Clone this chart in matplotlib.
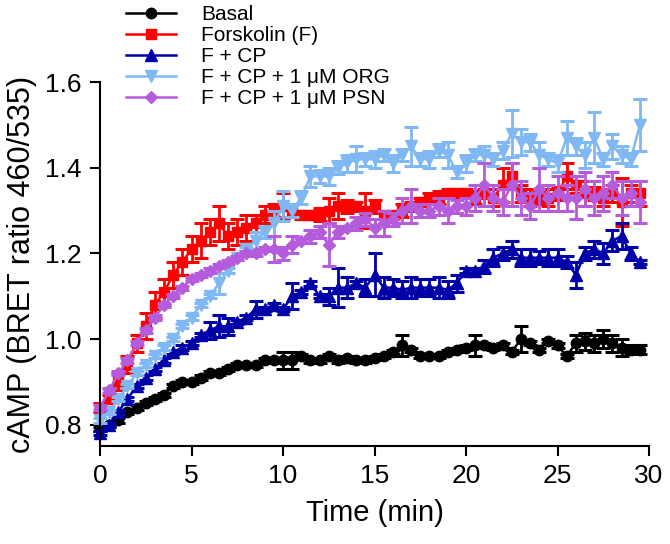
import matplotlib
matplotlib.use("Agg")
import matplotlib.pyplot as plt

plt.rcParams["font.family"] = ["Liberation Sans", "DejaVu Sans"]

# sampling times (min)
time_min = [0.0, 0.5, 1.0, 1.5, 2.0, 2.5, 3.0, 3.5, 4.0, 4.5,
            5.0, 5.5, 6.0, 6.5, 7.0, 7.5, 8.0, 8.5, 9.0, 9.5,
            10.0, 10.5, 11.0, 11.5, 12.0, 12.5, 13.0, 13.5, 14.0, 14.5,
            15.0, 15.5, 16.0, 16.5, 17.0, 17.5, 18.0, 18.5, 19.0, 19.5,
            20.0, 20.5, 21.0, 21.5, 22.0, 22.5, 23.0, 23.5, 24.0, 24.5,
            25.0, 25.5, 26.0, 26.5, 27.0, 27.5, 28.0, 28.5, 29.0, 29.5]

basal = [0.79, 0.80, 0.81, 0.83, 0.84, 0.85, 0.86, 0.87, 0.89, 0.90,
         0.90, 0.91, 0.92, 0.92, 0.93, 0.94, 0.94, 0.94, 0.95, 0.95,
         0.95, 0.95, 0.96, 0.95, 0.95, 0.96, 0.95, 0.955, 0.95, 0.95,
         0.955, 0.96, 0.97, 0.985, 0.975, 0.96, 0.96, 0.96, 0.97, 0.975,
         0.98, 0.985, 0.985, 0.98, 0.985, 0.97, 1.0, 0.99, 0.975, 0.995,
         0.985, 0.96, 0.99, 0.995, 0.99, 1.0, 0.99, 0.98, 0.975, 0.975]
basal_err = [0.005, 0.005, 0.005, 0.005, 0.005, 0.005, 0.005, 0.005, 0.005, 0.005,
             0.005, 0.005, 0.005, 0.005, 0.005, 0.005, 0.005, 0.005, 0.005, 0.005,
             0.02, 0.02, 0.005, 0.005, 0.005, 0.005, 0.005, 0.005, 0.005, 0.005,
             0.005, 0.005, 0.005, 0.025, 0.005, 0.005, 0.005, 0.005, 0.005, 0.005,
             0.005, 0.025, 0.005, 0.005, 0.005, 0.005, 0.03, 0.005, 0.005, 0.005,
             0.005, 0.005, 0.02, 0.02, 0.02, 0.02, 0.02, 0.02, 0.01, 0.01]

forskolin = [0.84, 0.86, 0.90, 0.94, 0.99, 1.03, 1.08, 1.11, 1.15, 1.18,
             1.21, 1.23, 1.25, 1.27, 1.24, 1.25, 1.26, 1.27, 1.29, 1.30,
             1.31, 1.30, 1.29, 1.29, 1.29, 1.30, 1.31, 1.31, 1.31, 1.30,
             1.31, 1.29, 1.29, 1.30, 1.31, 1.32, 1.33, 1.33, 1.34, 1.34,
             1.34, 1.33, 1.34, 1.33, 1.36, 1.38, 1.34, 1.33, 1.33, 1.33,
             1.34, 1.38, 1.36, 1.34, 1.34, 1.33, 1.34, 1.32, 1.34, 1.34]
forskolin_err = [0.01, 0.01, 0.02, 0.02, 0.02, 0.03, 0.03, 0.03, 0.03, 0.03,
                 0.03, 0.04, 0.03, 0.04, 0.03, 0.03, 0.03, 0.02, 0.02, 0.015,
                 0.03, 0.015, 0.01, 0.01, 0.015, 0.03, 0.03, 0.015, 0.01, 0.04,
                 0.015, 0.01, 0.01, 0.015, 0.01, 0.01, 0.01, 0.015, 0.01, 0.01,
                 0.01, 0.015, 0.01, 0.02, 0.04, 0.03, 0.02, 0.02, 0.015, 0.02,
                 0.015, 0.03, 0.02, 0.03, 0.015, 0.02, 0.02, 0.055, 0.02, 0.03]

f_cp = [0.78, 0.80, 0.83, 0.86, 0.89, 0.91, 0.93, 0.95, 0.97, 0.98,
        0.99, 1.01, 1.02, 1.03, 1.03, 1.04, 1.05, 1.07, 1.07, 1.08,
        1.07, 1.10, 1.11, 1.13, 1.10, 1.10, 1.12, 1.12, 1.13, 1.12,
        1.15, 1.12, 1.12, 1.115, 1.12, 1.12, 1.12, 1.12, 1.115, 1.13,
        1.16, 1.16, 1.17, 1.19, 1.20, 1.21, 1.19, 1.19, 1.19, 1.19,
        1.19, 1.18, 1.15, 1.20, 1.21, 1.20, 1.23, 1.24, 1.20, 1.18]
f_cp_err = [0.005, 0.005, 0.005, 0.005, 0.005, 0.005, 0.005, 0.005, 0.005, 0.005,
            0.005, 0.005, 0.02, 0.025, 0.02, 0.005, 0.005, 0.02, 0.005, 0.005,
            0.005, 0.03, 0.005, 0.005, 0.005, 0.02, 0.045, 0.025, 0.005, 0.02,
            0.05, 0.025, 0.02, 0.02, 0.025, 0.02, 0.02, 0.025, 0.02, 0.02,
            0.005, 0.005, 0.015, 0.02, 0.015, 0.02, 0.02, 0.02, 0.015, 0.02,
            0.02, 0.015, 0.03, 0.015, 0.02, 0.025, 0.025, 0.03, 0.015, 0.005]

f_cp_org = [0.81, 0.83, 0.86, 0.89, 0.92, 0.94, 0.96, 0.98, 1.00, 1.03,
            1.05, 1.08, 1.10, 1.13, 1.16, 1.19, 1.21, 1.23, 1.25, 1.27,
            1.31, 1.30, 1.33, 1.38, 1.38, 1.38, 1.40, 1.41, 1.42, 1.42,
            1.42, 1.43, 1.41, 1.43, 1.45, 1.42, 1.42, 1.44, 1.43, 1.39,
            1.41, 1.43, 1.43, 1.42, 1.44, 1.48, 1.46, 1.46, 1.43, 1.42,
            1.41, 1.47, 1.45, 1.43, 1.47, 1.42, 1.45, 1.43, 1.42, 1.50]
f_cp_org_err = [0.005, 0.005, 0.005, 0.005, 0.005, 0.005, 0.005, 0.005, 0.005, 0.005,
                0.005, 0.005, 0.005, 0.025, 0.005, 0.005, 0.005, 0.02, 0.015, 0.03,
                0.035, 0.015, 0.015, 0.025, 0.015, 0.02, 0.015, 0.02, 0.03, 0.015,
                0.02, 0.015, 0.02, 0.015, 0.045, 0.015, 0.02, 0.015, 0.03, 0.015,
                0.02, 0.015, 0.02, 0.015, 0.02, 0.055, 0.03, 0.02, 0.03, 0.015,
                0.02, 0.04, 0.02, 0.03, 0.06, 0.015, 0.03, 0.02, 0.015, 0.06]

f_cp_psn = [0.84, 0.88, 0.92, 0.95, 0.99, 1.02, 1.05, 1.08, 1.10, 1.12,
            1.14, 1.15, 1.16, 1.17, 1.18, 1.19, 1.20, 1.20, 1.21, 1.21,
            1.20, 1.22, 1.23, 1.24, 1.25, 1.22, 1.25, 1.26, 1.27, 1.28,
            1.26, 1.27, 1.28, 1.30, 1.31, 1.30, 1.30, 1.31, 1.30, 1.31,
            1.31, 1.33, 1.36, 1.33, 1.32, 1.36, 1.33, 1.31, 1.35, 1.33,
            1.34, 1.33, 1.33, 1.35, 1.33, 1.34, 1.36, 1.33, 1.34, 1.32]
f_cp_psn_err = [0.005, 0.005, 0.005, 0.005, 0.005, 0.005, 0.005, 0.005, 0.005, 0.005,
                0.005, 0.005, 0.005, 0.005, 0.005, 0.005, 0.005, 0.005, 0.005, 0.03,
                0.015, 0.02, 0.005, 0.015, 0.015, 0.05, 0.015, 0.005, 0.015, 0.015,
                0.02, 0.03, 0.015, 0.03, 0.04, 0.015, 0.015, 0.02, 0.03, 0.015,
                0.02, 0.03, 0.05, 0.03, 0.03, 0.05, 0.04, 0.03, 0.05, 0.03,
                0.04, 0.03, 0.05, 0.04, 0.04, 0.04, 0.03, 0.04, 0.03, 0.05]

series = [
    ("Basal", basal, basal_err, "black", "o", 7.5),
    ("Forskolin (F)", forskolin, forskolin_err, "#FF0000", "s", 7),
    ("F + CP", f_cp, f_cp_err, "#0000A8", "^", 8),
    ("F + CP + 1 \u03bcM ORG", f_cp_org, f_cp_org_err, "#80B8F4", "v", 8),
    ("F + CP + 1 \u03bcM PSN", f_cp_psn, f_cp_psn_err, "#B45CDC", "D", 6),
]

fig = plt.figure(figsize=(6.7, 5.44), dpi=100)
ax = fig.add_axes([0.1493, 0.180, 0.8194, 0.669])

handles = []
for label, y, err, col, mk, ms in series:
    ax.errorbar(time_min, y, yerr=err, fmt="none", ecolor=col, elinewidth=2,
                capsize=5, capthick=2.2, clip_on=False)
    ln, = ax.plot(time_min, y, color=col, marker=mk, ms=ms, lw=1.8,
                  label=label, clip_on=False)
    handles.append(ln)

ax.set_xlim(0, 30)
ax.set_ylim(0.75, 1.6)
ax.set_xticks([0, 5, 10, 15, 20, 25, 30])
ax.set_yticks([0.8, 1.0, 1.2, 1.4, 1.6])
ax.set_yticklabels(["0.8", "1.0", "1.2", "1.4", "1.6"])
for s in ("top", "right"):
    ax.spines[s].set_visible(False)
for s in ("left", "bottom"):
    ax.spines[s].set_linewidth(1.5)
ax.tick_params(direction="out", length=7, width=1.5, labelsize=19, pad=6)
ax.set_xlabel("Time (min)", fontsize=21, labelpad=8)
ax.set_ylabel("cAMP (BRET ratio 460/535)", fontsize=22, labelpad=6)

fig.legend(handles=handles, loc="upper left", bbox_to_anchor=(0.185, 0.995),
           frameon=False, fontsize=15, handlelength=2.4, handletextpad=1.2,
           labelspacing=0.1, borderpad=0.1, borderaxespad=0)

fig.savefig("out.png", dpi=100)
